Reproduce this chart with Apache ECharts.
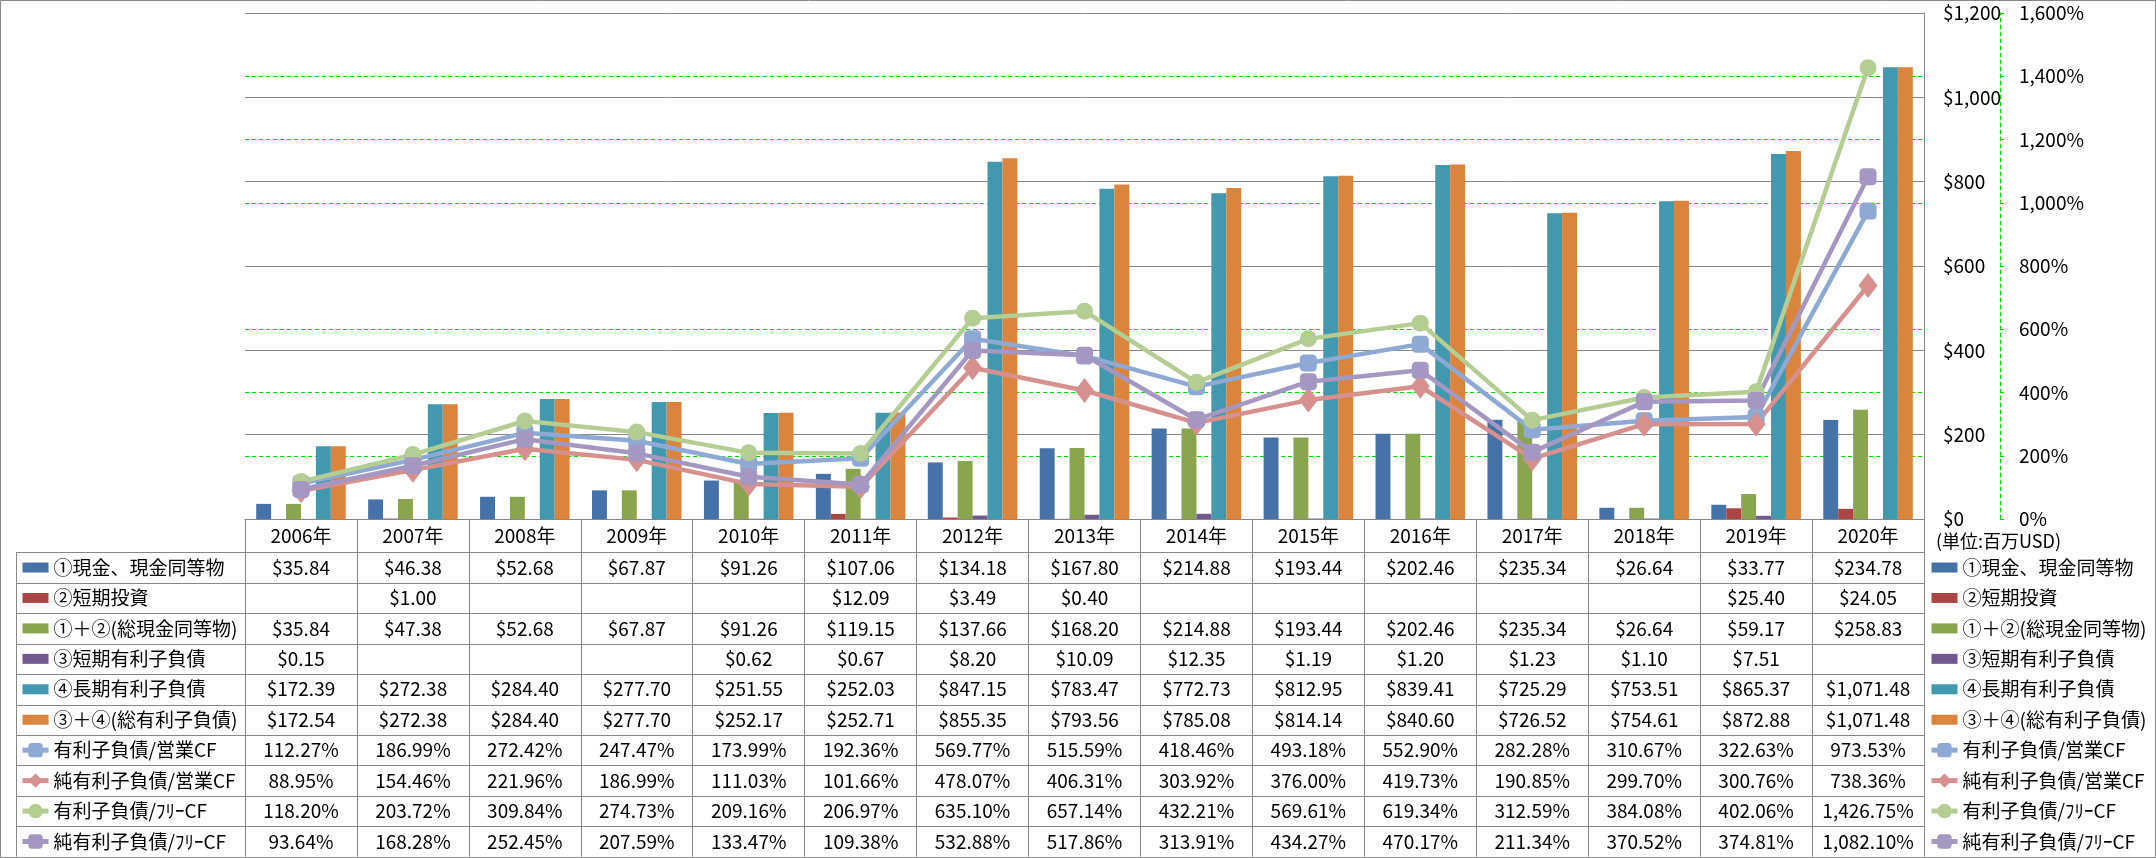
<!DOCTYPE html>
<html><head><meta charset="utf-8">
<script src="https://cdn.jsdelivr.net/npm/echarts@6/dist/echarts.min.js"></script>
<style>html,body{margin:0;padding:0;background:#fff}#c{width:2156px;height:858px}</style>
</head><body><div id="c"></div>
<script>
var years = ['2006年','2007年','2008年','2009年','2010年','2011年','2012年','2013年','2014年','2015年','2016年','2017年','2018年','2019年','2020年'];
var cash = [35.84,46.38,52.68,67.87,91.26,107.06,134.18,167.80,214.88,193.44,202.46,235.34,26.64,33.77,234.78];
var stInvest = [null,1.00,null,null,null,12.09,3.49,0.40,null,null,null,null,null,25.40,24.05];
var totalCash = [35.84,47.38,52.68,67.87,91.26,119.15,137.66,168.20,214.88,193.44,202.46,235.34,26.64,59.17,258.83];
var stDebt = [0.15,null,null,null,0.62,0.67,8.20,10.09,12.35,1.19,1.20,1.23,1.10,7.51,null];
var ltDebt = [172.39,272.38,284.40,277.70,251.55,252.03,847.15,783.47,772.73,812.95,839.41,725.29,753.51,865.37,1071.48];
var totalDebt = [172.54,272.38,284.40,277.70,252.17,252.71,855.35,793.56,785.08,814.14,840.60,726.52,754.61,872.88,1071.48];
var debtOcf = [112.27,186.99,272.42,247.47,173.99,192.36,569.77,515.59,418.46,493.18,552.90,282.28,310.67,322.63,973.53];
var netDebtOcf = [88.95,154.46,221.96,186.99,111.03,101.66,478.07,406.31,303.92,376.00,419.73,190.85,299.70,300.76,738.36];
var debtFcf = [118.20,203.72,309.84,274.73,209.16,206.97,635.10,657.14,432.21,569.61,619.34,312.59,384.08,402.06,1426.75];
var netDebtFcf = [93.64,168.28,252.45,207.59,133.47,109.38,532.88,517.86,313.91,434.27,470.17,211.34,370.52,374.81,1082.10];
var moneyTicks = [0,200,400,600,800,1000,1200];
var pctTicks = [0,200,400,600,800,1000,1200,1400,1600];

var names = ['①現金、現金同等物','②短期投資','①＋②(総現金同等物)','③短期有利子負債','④長期有利子負債','③＋④(総有利子負債)','有利子負債/営業CF','純有利子負債/営業CF','有利子負債/ﾌﾘｰCF','純有利子負債/ﾌﾘｰCF'];
var barData = [cash, stInvest, totalCash, stDebt, ltDebt, totalDebt];
var lineData = [debtOcf, netDebtOcf, debtFcf, netDebtFcf];
var barColors = ['#4572A7','#AA4643','#89A54E','#71588F','#4198AF','#DB843D'];
var lineColors = ['#8EA9D3','#D6908E','#B4CD92','#A497C1'];
var lineSymbols = ['roundRect','diamond','circle','roundRect'];
var lineSymbolSizes = [17,[19,25],17,17];

var FONT = 'Noto Sans CJK JP';
var FS = 19;
function fmtNum(v){ return v.toLocaleString('en-US',{minimumFractionDigits:2,maximumFractionDigits:2}); }
function fmtMoney(v){ return v==null ? '' : '$' + fmtNum(v); }
function fmtPct(v){ return v==null ? '' : fmtNum(v) + '%'; }

var gridL = 245, gridR = 1924, gridT = 13, gridB = 519;
var headH = 33.3, rowH = 30.44;
var tableBottom = gridB + headH + rowH*10;
var gray = '#878787';

var series = [];
barData.forEach(function(d,i){
  series.push({name:names[i], type:'bar', xAxisIndex:0, yAxisIndex:0, data:d,
    itemStyle:{color:barColors[i]}, barGap:'0%', barCategoryGap:'20%', z:3});
});
lineData.forEach(function(d,i){
  series.push({name:names[6+i], type:'line', xAxisIndex:0, yAxisIndex:1, data:d,
    symbol:lineSymbols[i], symbolSize:lineSymbolSizes[i], showAllSymbol:true,
    itemStyle:{color:lineColors[i]}, lineStyle:{color:lineColors[i], width:4.5}, z:5});
});

var rows = [
  barData[0].map(fmtMoney), barData[1].map(fmtMoney), barData[2].map(fmtMoney),
  barData[3].map(fmtMoney), barData[4].map(fmtMoney), barData[5].map(fmtMoney),
  lineData[0].map(fmtPct), lineData[1].map(fmtPct), lineData[2].map(fmtPct), lineData[3].map(fmtPct)
];

var xAxes = [{
  type:'category', data:years, gridIndex:0, position:'bottom', boundaryGap:true, z:2,
  axisLine:{show:true, lineStyle:{color:gray, width:1}},
  axisTick:{show:true, interval:0, length: tableBottom - gridB, lineStyle:{color:gray, width:1}},
  axisLabel:{interval:0, margin:headH/2, verticalAlign:'middle', fontFamily:FONT, fontSize:FS, color:'#000'}
}];
rows.forEach(function(r,ri){
  xAxes.push({
    type:'category', data:years, gridIndex:0, position:'bottom', boundaryGap:true,
    axisLine:{show:false}, axisTick:{show:false}, splitLine:{show:false},
    axisLabel:{interval:0, margin: headH + rowH*(ri+0.5), verticalAlign:'middle',
      fontFamily:FONT, fontSize:FS, color:'#000',
      formatter:(function(rr){ return function(v, idx){ return rr[idx]; }; })(r)}
  });
});

var graphics = [];
graphics.push({type:'rect', shape:{x:0.5,y:0.5,width:2155,height:857}, style:{fill:null, stroke:gray, lineWidth:1}, silent:true});
for (var k=0;k<=10;k++){
  var y = Math.round(gridB + headH + rowH*k) + 0.5;
  graphics.push({type:'line', shape:{x1:16, y1:y, x2:gridR, y2:y}, style:{stroke:gray, lineWidth:1}, silent:true});
}
graphics.push({type:'line', shape:{x1:16.5, y1:gridB+headH, x2:16.5, y2:tableBottom}, style:{stroke:gray, lineWidth:1}, silent:true});
graphics.push({type:'text', x:1936, y:541, style:{text:'(単位:百万USD)', font:'18px "'+FONT+'"', fill:'#000', textVerticalAlign:'middle'}, silent:true});

var barIcon = 'path://M0,0M0,4h26v10h-26zM26,18';
function legendCfg(left){
  return {show:true, orient:'vertical', left:left, top:gridB+headH, padding:0, itemGap:0,
    itemWidth:26, itemHeight:18, selectedMode:false,
    data:names.map(function(n,i){
      return i<6 ? {name:n, icon:barIcon} : {name:n, lineStyle:{width:5, color:lineColors[i-6]}};
    }),
    textStyle:{fontFamily:FONT, fontSize:FS, color:'#000', lineHeight:rowH}};
}

var option = {
  animation:false,
  backgroundColor:'#fff',
  textStyle:{fontFamily:FONT},
  grid:{left:gridL, top:gridT, width:gridR-gridL, height:gridB-gridT, containLabel:false},
  legend:[legendCfg(20), legendCfg(1929)],
  xAxis:xAxes,
  yAxis:[{
    type:'value', position:'right', min:moneyTicks[0], max:moneyTicks[moneyTicks.length-1], interval:200, z:1,
    axisLine:{show:true, lineStyle:{color:gray}}, axisTick:{show:false},
    splitLine:{show:true, lineStyle:{color:gray, width:1}},
    axisLabel:{margin:19, fontFamily:FONT, fontSize:FS, color:'#000', align:'left',
      formatter:function(v){ return '$' + v.toLocaleString('en-US'); }}
  },{
    type:'value', position:'right', offset:76, min:pctTicks[0], max:pctTicks[pctTicks.length-1], interval:200, z:0,
    axisLine:{show:true, lineStyle:{color:'#00E000', type:[4,3], width:1}},
    axisTick:{show:true, length:4, lineStyle:{color:'#00E000'}},
    splitLine:{show:true, showMinLine:false, showMaxLine:false, lineStyle:{color:'#00E000', type:[4,3], width:1}},
    axisLabel:{margin:19, fontFamily:FONT, fontSize:FS, color:'#000', align:'left',
      formatter:function(v){ return v.toLocaleString('en-US') + '%'; }}
  }],
  series:series,
  graphic:graphics
};
var chart = echarts.init(document.getElementById('c'), null, {renderer:'canvas'});
chart.setOption(option);
</script></body></html>
